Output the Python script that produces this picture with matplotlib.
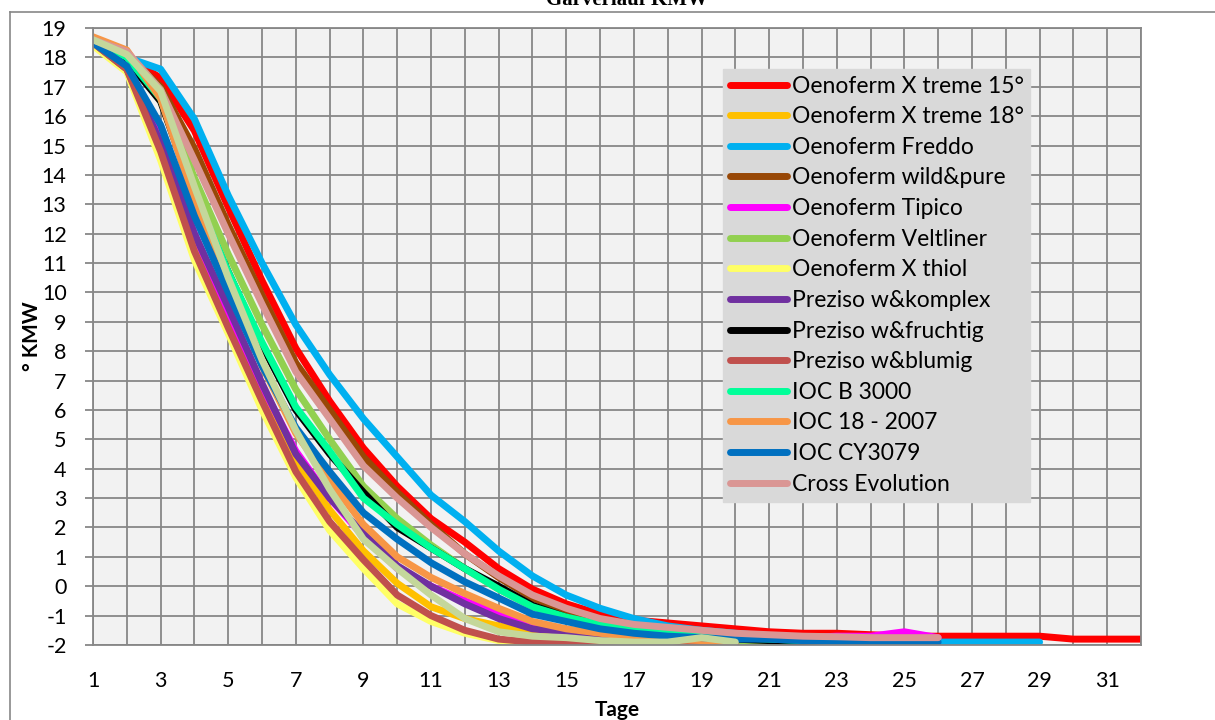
# Gärverlauf KMW - Verlauf der Gärung je Hefe

import matplotlib
matplotlib.use('Agg')
import matplotlib.pyplot as plt
from matplotlib.lines import Line2D

# Werte in ° KMW pro Tag (ab Tag 1)
xtreme15 = [18.6, 18.0, 17.3, 15.5, 12.9, 10.4, 8.1, 6.3, 4.7, 3.4, 2.3, 1.5, 0.6, -0.1, -0.6, -0.95,
            -1.15, -1.25, -1.35, -1.45, -1.55, -1.6, -1.6, -1.65, -1.7, -1.7, -1.7, -1.7, -1.7, -1.8, -1.8, -1.8]
xtreme18 = [18.5, 17.6, 15.0, 11.7, 9.0, 6.6, 4.3, 2.6, 1.2, 0.1, -0.7, -1.1, -1.35, -1.55, -1.7, -1.8,
            -1.85, -1.9, -1.9, -1.9]
freddo = [18.6, 18.0, 17.6, 15.9, 13.3, 11.0, 8.9, 7.2, 5.7, 4.4, 3.1, 2.2, 1.2, 0.35, -0.3, -0.75,
          -1.1, -1.35, -1.5, -1.6, -1.7, -1.75, -1.8, -1.85, -1.9, -1.9, -1.9, -1.9, -1.9]
wild_pure = [18.6, 18.1, 17.0, 14.9, 12.3, 9.9, 7.6, 6.0, 4.4, 3.2, 2.1, 1.1, 0.3, -0.4, -0.85, -1.2,
             -1.45, -1.6, -1.7, -1.75, -1.8, -1.85, -1.9, -1.95]
tipico = [18.5, 17.6, 15.3, 12.0, 9.3, 6.8, 4.6, 3.0, 1.7, 0.6, 0.0, -0.5, -0.95, -1.3, -1.5, -1.65,
          -1.75, -1.8, -1.85, -1.85, -1.85, -1.75, -1.7, -1.7, -1.55, -1.75]
veltliner = [18.6, 18.1, 16.9, 13.9, 11.3, 8.9, 6.7, 5.0, 3.4, 2.3, 1.4, 0.6, -0.1, -0.7, -1.05, -1.35,
             -1.55, -1.7, -1.8, -1.9, -1.95, -2.0]
thiol = [18.4, 17.5, 14.5, 11.1, 8.6, 6.0, 3.7, 1.9, 0.6, -0.6, -1.2, -1.6, -1.85, -1.95, -2.0, -2.0,
         -2.0, -2.0, -2.0, -2.0]
komplex = [18.5, 17.6, 15.1, 12.0, 9.5, 6.9, 4.5, 3.0, 1.8, 0.7, 0.0, -0.6, -1.1, -1.45, -1.55, -1.7,
           -1.8, -1.85, -1.9, -1.9]
fruchtig = [18.5, 17.9, 16.5, 13.3, 10.7, 8.2, 6.0, 4.5, 3.2, 2.0, 1.3, 0.6, 0.0, -0.65, -1.05, -1.35,
            -1.55, -1.7, -1.75, -1.8, -1.85, -1.9, -1.9, -1.95, -1.95]
blumig = [18.5, 17.6, 14.8, 11.4, 8.8, 6.3, 3.9, 2.2, 0.9, -0.3, -1.0, -1.5, -1.8, -1.9, -1.95, -2.0,
          -2.0, -2.0, -2.0, -2.0]
b3000 = [18.6, 18.0, 16.6, 13.4, 10.7, 8.3, 6.1, 4.6, 3.0, 2.1, 1.3, 0.6, -0.1, -0.7, -1.05, -1.3,
         -1.5, -1.6, -1.7, -1.75, -1.8, -1.85]
ioc18 = [18.7, 18.25, 16.6, 13.1, 10.2, 7.5, 5.2, 3.6, 2.1, 1.0, 0.3, -0.25, -0.75, -1.2, -1.45, -1.6,
         -1.75, -1.8, -1.85, -1.9]
cy3079 = [18.5, 17.7, 15.7, 12.6, 10.0, 7.5, 5.4, 3.9, 2.5, 1.6, 0.8, 0.15, -0.4, -0.95, -1.2, -1.45,
          -1.6, -1.7, -1.75, -1.8, -1.8, -1.85, -1.9, -1.9, -1.9, -1.9]
cross_evo = [18.6, 18.2, 16.9, 14.5, 12.0, 9.6, 7.3, 5.7, 4.1, 3.0, 2.0, 1.1, 0.35, -0.3, -0.75, -1.1,
             -1.3, -1.4, -1.5, -1.6, -1.65, -1.7, -1.72, -1.75, -1.75, -1.75]
# Reihe ohne Legendeneintrag
ohne_name = [18.6, 18.1, 16.85, 13.6, 10.5, 7.7, 5.3, 3.3, 1.6, 0.6, -0.3, -1.1, -1.55, -1.7, -1.75,
             -1.85, -1.9, -1.9, -1.75, -1.9]

namen = ['Oenoferm X treme 15°', 'Oenoferm X treme 18°', 'Oenoferm Freddo', 'Oenoferm wild&pure',
         'Oenoferm Tipico', 'Oenoferm Veltliner', 'Oenoferm X thiol', 'Preziso w&komplex',
         'Preziso w&fruchtig', 'Preziso w&blumig', 'IOC B 3000', 'IOC 18 - 2007', 'IOC CY3079',
         'Cross Evolution']
reihen = [xtreme15, xtreme18, freddo, wild_pure, tipico, veltliner, thiol, komplex,
          fruchtig, blumig, b3000, ioc18, cy3079, cross_evo]
farben = ['#FF0000', '#FFC000', '#00B0F0', '#984807', '#FF00FF', '#92D050', '#FFFF66', '#7030A0',
          '#000000', '#C0504D', '#00FF99', '#F79646', '#0070C0', '#DA9694']

grau = '#878787'
plt.rcParams['font.family'] = ['Lato', 'DejaVu Sans']
plt.rcParams['axes.unicode_minus'] = False

fig = plt.figure(figsize=(12.15, 7.2), dpi=100)
ax = fig.add_axes([93 / 1215, 1 - 645 / 720, 1048 / 1215, 617 / 720])
ax.set_facecolor('#F2F2F2')

for werte, farbe in zip(reihen, farben):
    tage = range(1, len(werte) + 1)
    ax.plot(tage, werte, color=farbe, linewidth=5, solid_capstyle='round', solid_joinstyle='round')
ax.plot(range(1, len(ohne_name) + 1), ohne_name, color='#C4D79B', linewidth=5,
        solid_capstyle='round', solid_joinstyle='round')

ax.set_xlim(1, 32)
ax.set_ylim(-2, 19)
ax.set_xticks(range(1, 33), minor=True)
ax.set_xticks(range(1, 33, 2))
ax.set_yticks(range(-2, 20))
ax.grid(True, which='both', color=grau, linewidth=1.3)
ax.set_axisbelow(True)
for s in ax.spines.values():
    s.set_color(grau)
    s.set_linewidth(1.3)
ax.tick_params(axis='y', length=6, width=1.3, color=grau, pad=13, labelsize=15.5)
ax.tick_params(axis='x', which='both', length=0, pad=19, labelsize=15.5)

ax.set_xlabel('Tage', fontsize=15, fontweight='bold', labelpad=6)
ax.set_ylabel('° KMW', fontsize=15, fontweight='bold', labelpad=0)

handles = [Line2D([0], [0], color=f, linewidth=5, solid_capstyle='round') for f in farben]
leg = ax.legend(handles, namen, loc='upper left', bbox_to_anchor=(0.601, 0.934),
                fontsize=16.5, frameon=True, fancybox=False, facecolor='#D9D9D9',
                edgecolor='#D9D9D9', framealpha=1, handlelength=2.5, handletextpad=0.2,
                labelspacing=0.42, borderpad=0.3, borderaxespad=0)

# Titel (oben abgeschnitten) und Rahmen des Diagrammbereichs
fig.text(0.516, 1 - 5 / 720, 'Gärverlauf KMW', ha='center', va='baseline', fontsize=15,
         fontweight='bold', family='Liberation Serif')
fig.add_artist(Line2D([10 / 1215, 10 / 1215], [0, 1 - 12 / 720], color=grau, linewidth=1.2))
fig.add_artist(Line2D([10 / 1215, 1], [1 - 12 / 720, 1 - 12 / 720], color=grau, linewidth=1.2))

fig.savefig('out.png', dpi=100)
